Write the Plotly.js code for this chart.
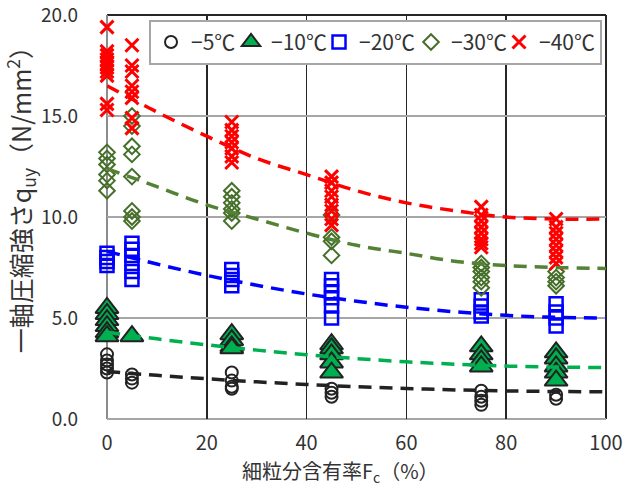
<!DOCTYPE html>
<html>
<head>
<meta charset="utf-8">
<script src="https://cdn.plot.ly/plotly-3.0.1.min.js"></script>
<style>html,body{margin:0;padding:0;background:#fff;}#chart{width:624px;height:490px;}</style>
</head>
<body>
<div id="chart"></div>
<script>
// ---- data ----
const seriesNames = ["−5℃", "−10℃", "−20℃", "−30℃", "−40℃"];

const fc_m5  = [0,0,0,0,0, 5,5,5, 25,25,25,25, 45,45,45, 75,75,75,75, 90,90];
const qu_m5  = [3.2,2.9,2.7,2.5,2.3, 2.2,2.0,1.8, 2.3,1.9,1.6,1.5, 1.5,1.3,1.1, 1.4,1.1,0.9,0.7, 1.2,1.0];

const fc_m10 = [0,0,0,0,0,0, 5, 25,25,25,25, 45,45,45,45,45, 75,75,75,75, 90,90,90,90,90];
const qu_m10 = [5.5,5.2,4.9,4.6,4.3,4.1, 4.1, 4.2,3.9,3.6,3.5, 3.7,3.5,3.2,2.8,2.3, 3.6,3.2,2.9,2.6, 3.3,3.0,2.6,2.3,1.9];

const fc_m20 = [0,0,0,0, 5,5,5,5,5,5, 25,25,25,25, 45,45,45,45,45,45, 75,75,75,75, 90,90,90,90];
const qu_m20 = [8.2,8.0,7.8,7.6, 8.7,8.4,8.1,7.7,7.3,6.9, 7.4,7.1,6.9,6.6, 6.9,6.6,6.3,6.0,5.6,5.0, 5.9,5.6,5.3,5.1, 5.7,5.3,5.0,4.6];

const fc_m30 = [0,0,0,0,0,0, 5,5,5,5,5,5,5,5, 25,25,25,25,25,25, 45,45,45,45, 75,75,75,75,75,75, 90,90,90,90];
const qu_m30 = [13.2,12.9,12.6,12.1,11.8,11.3, 15.0,14.5,13.5,13.1,12.0,10.3,10.0,9.8, 11.3,11.0,10.7,10.4,10.2,9.8, 10.1,9.0,8.8,8.1, 7.7,7.5,7.3,7.0,6.8,6.5, 7.3,7.0,6.8,6.6];

const fc_m40 = [0,0,0,0,0,0,0,0,0,0, 5,5,5,5,5,5,5,5, 25,25,25,25,25,25,25, 45,45,45,45,45,45,45,45, 75,75,75,75,75,75,75,75, 90,90,90,90,90,90,90,90];
const qu_m40 = [19.4,18.2,18.0,17.8,17.6,17.4,17.2,17.0,15.6,15.3, 18.5,17.5,17.2,16.5,16.2,15.9,14.9,14.4, 14.7,14.3,14.0,13.7,13.4,13.0,12.7, 12.0,11.7,11.3,11.0,10.6,10.3,9.9,9.6, 10.5,10.1,9.8,9.5,9.2,8.9,8.7,8.5, 9.9,9.5,9.2,8.9,8.6,8.3,8.0,7.7];

// trend lines
const trendX   = [0,10,20,30,40,50,60,70,80,90,100];
const trend_m5  = [2.35,2.16,1.99,1.84,1.71,1.60,1.51,1.44,1.39,1.36,1.35];
const trend_m10 = [4.3,3.97,3.67,3.41,3.18,2.99,2.83,2.71,2.62,2.57,2.55];
const trend_m20 = [8.3,7.67,7.11,6.62,6.19,5.83,5.53,5.30,5.13,5.03,5.0];
const trend_m30 = [12.4,11.5,10.6,9.9,9.2,8.6,8.2,7.8,7.6,7.5,7.45];
const trend_m40 = [16.5,15.2,14.0,12.9,12.1,11.3,10.7,10.3,10.0,9.9,9.9];

const xTicks = [0,20,40,60,80,100];
const yTicks = [0,5,10,15,20];
const yTickText = ["0.0","5.0","10.0","15.0","20.0"];

// ---- styles ----
const FONT = '"Noto Sans CJK JP", "Noto Sans", sans-serif';
const TXT = '#333333';
const legendW = [35, 43, 47, 43, 56];

const traces = [
  {x: fc_m5, y: qu_m5, name: seriesNames[0], type: 'scatter', mode: 'markers', cliponaxis: false, legendwidth: legendW[0],
   marker: {symbol: 'circle-open', size: 12, color: '#222222', line: {width: 2, color: '#222222'}}},
  {x: fc_m10, y: qu_m10, name: seriesNames[1], type: 'scatter', mode: 'markers', cliponaxis: false, legendwidth: legendW[1],
   marker: {symbol: 'triangle-up', size: 20, color: '#00b050', line: {width: 2, color: '#222222'}}},
  {x: fc_m20, y: qu_m20, name: seriesNames[2], type: 'scatter', mode: 'markers', cliponaxis: false, legendwidth: legendW[2],
   marker: {symbol: 'square-open', size: 13, color: '#0000ff', line: {width: 2.5, color: '#0000ff'}}},
  {x: fc_m30, y: qu_m30, name: seriesNames[3], type: 'scatter', mode: 'markers', cliponaxis: false, legendwidth: legendW[3],
   marker: {symbol: 'diamond-open', size: 12, color: '#46702a', line: {width: 2, color: '#46702a'}}},
  {x: fc_m40, y: qu_m40, name: seriesNames[4], type: 'scatter', mode: 'markers', cliponaxis: false, legendwidth: legendW[4],
   marker: {symbol: 'x-thin-open', size: 13, color: '#ff0000', line: {width: 3, color: '#ff0000'}}},
];
const trendDefs = [
  [trend_m5, '#222222'], [trend_m10, '#00b050'], [trend_m20, '#0000ff'], [trend_m30, '#548235'], [trend_m40, '#ff0000']
];
trendDefs.forEach(([ys, c]) => {
  traces.push({x: trendX, y: ys, type: 'scatter', mode: 'lines', showlegend: false, hoverinfo: 'skip',
    line: {color: c, width: 3.5, dash: '13px,8px', shape: 'spline', smoothing: 1}});
});

const layout = {
  width: 624, height: 490,
  margin: {l: 107, r: 18, t: 15, b: 71},
  paper_bgcolor: '#ffffff', plot_bgcolor: '#ffffff',
  font: {family: FONT, color: TXT, size: 19},
  showlegend: true,
  legend: {
    orientation: 'h', x: 0.992, xanchor: 'right', y: 0.988, yanchor: 'top',
    bgcolor: '#ffffff', bordercolor: '#a6a6a6', borderwidth: 2,
    font: {family: FONT, size: 21, color: TXT},
    itemwidth: 30
  },
  xaxis: {
    range: [0, 100], tickmode: 'array', tickvals: xTicks, ticktext: xTicks.map(String),
    showgrid: true, gridcolor: '#262626', gridwidth: 1.5, zeroline: false, showline: false,
    ticks: '', ticklabelstandoff: 10, ticklabeloverflow: 'allow',
    tickfont: {family: FONT, size: 20, color: TXT}
  },
  yaxis: {
    range: [0, 20], tickmode: 'array', tickvals: yTicks, ticktext: yTickText,
    showgrid: true, gridcolor: '#a6a6a6', gridwidth: 2, zeroline: false, showline: false,
    ticks: '', ticklabelstandoff: 28, ticklabeloverflow: 'allow',
    tickfont: {family: FONT, size: 19, color: TXT}
  },
  shapes: [
    {type: 'line', xref: 'paper', yref: 'paper', x0: 0, x1: 1, y0: 1, y1: 1, line: {color: '#262626', width: 2}, layer: 'below'},
    {type: 'line', xref: 'paper', yref: 'paper', x0: 1, x1: 1, y0: 0, y1: 1, line: {color: '#262626', width: 2}, layer: 'below'},
    {type: 'line', xref: 'paper', yref: 'paper', x0: 0, x1: 0, y0: 0, y1: 1, line: {color: '#8c8c8c', width: 2}, layer: 'below'},
    {type: 'line', xref: 'paper', yref: 'paper', x0: 0, x1: 1, y0: 0, y1: 0, line: {color: '#a6a6a6', width: 2}, layer: 'below'}
  ],
  annotations: [
    {text: '一軸圧縮強さq<sub>uy</sub>（N/mm<sup>2</sup>）', xref: 'paper', yref: 'paper',
     x: -0.172, y: 0.557, xanchor: 'center', yanchor: 'middle', textangle: -90, showarrow: false,
     font: {family: FONT, size: 25, color: TXT}},
    {text: '細粒分含有率F<sub>c</sub>（%）', xref: 'paper', yref: 'paper',
     x: 0.468, y: -0.13, xanchor: 'center', yanchor: 'middle', showarrow: false,
     font: {family: FONT, size: 20, color: TXT}}
  ]
};

Plotly.newPlot('chart', traces, layout, {displayModeBar: false, staticPlot: true});
</script>
</body>
</html>
